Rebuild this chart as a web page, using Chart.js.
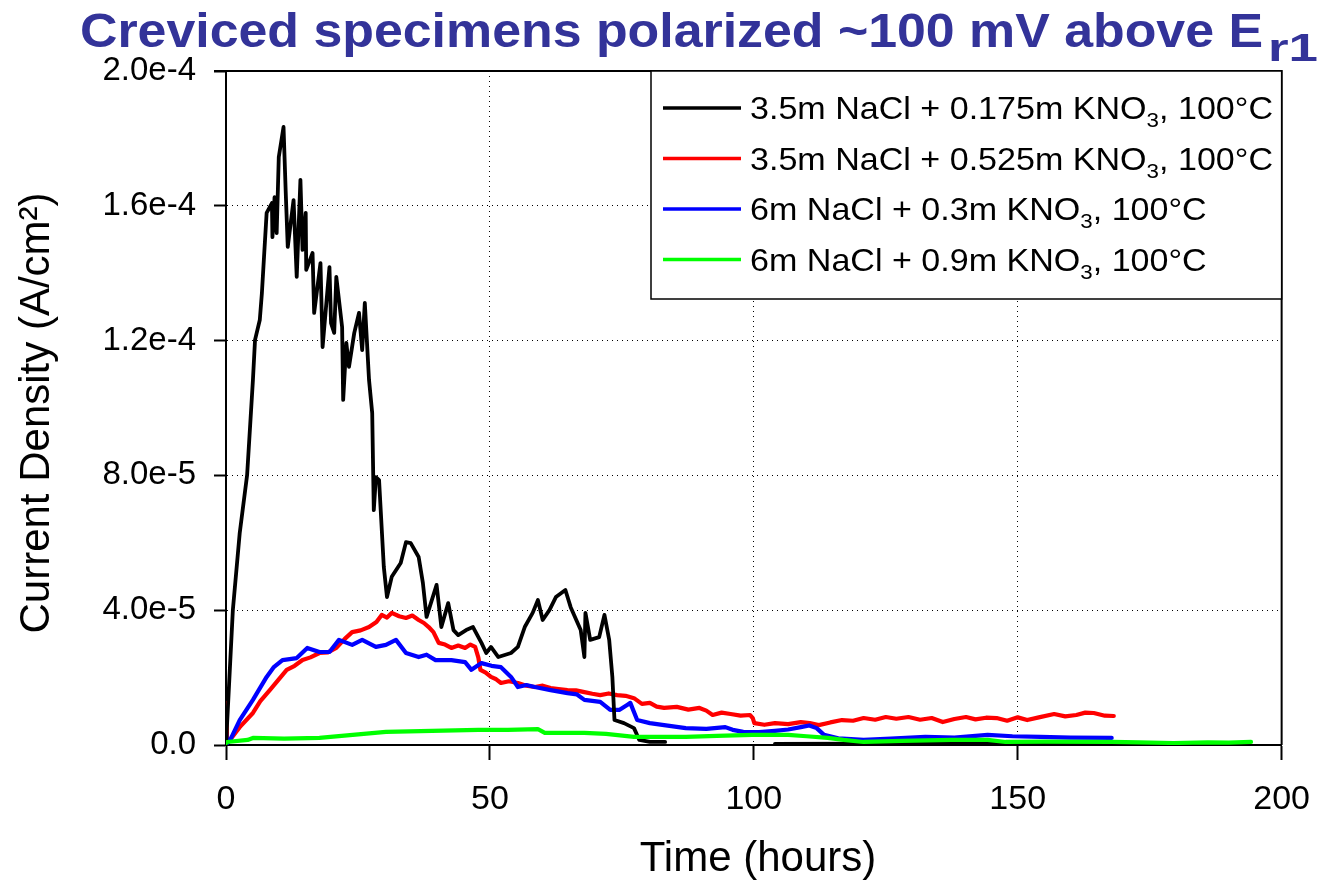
<!DOCTYPE html>
<html>
<head>
<meta charset="utf-8">
<title>Creviced specimens polarized ~100 mV above Er1</title>
<script src="https://cdn.jsdelivr.net/npm/chart.js@4.4.0/dist/chart.umd.min.js"></script>
<style>
  html, body { margin: 0; padding: 0; background: #fff; }
  #chart { display: block; }
</style>
</head>
<body>
<canvas id="chart" width="1329" height="881"></canvas>
<script>
// current density in uA/cm2 vs time in hours, [hours, current]
const blackSeries = [[0,0],[1.3,40.1],[2.6,62.9],[4.0,80.1],[5.1,108.3],[5.5,120.2],[6.4,126.1],[6.8,134.1],[7.2,144.8],[7.7,157.9],[8.7,160.8],[8.8,150.7],[9.2,162.6],[9.6,151.9],[10.0,174.5],[10.9,183.4],[11.3,164.7],[11.7,147.8],[12.8,161.7],[13.4,138.9],[14.1,167.7],[14.5,146.9],[15.1,157.9],[15.2,141.0],[16.4,146.0],[16.7,128.2],[17.9,143.0],[18.3,118.1],[19.6,141.8],[19.9,125.2],[20.5,122.3],[20.9,138.9],[22.0,124.0],[22.2,102.4],[22.8,119.3],[23.3,112.2],[24.3,122.3],[25.2,128.2],[25.8,117.2],[26.3,131.2],[27.1,108.3],[27.7,98.5],[28.0,69.7],[28.4,79.5],[29.0,78.6],[29.9,52.8],[30.5,43.9],[31.4,49.9],[33.1,54.0],[34.1,60.2],[35.0,59.9],[36.5,55.8],[37.3,48.1],[38.0,38.0],[39.9,47.5],[40.8,35.0],[42.1,42.1],[43.1,34.1],[44.0,32.6],[45.5,34.1],[46.8,35.0],[48.4,30.3],[49.3,27.3],[50.2,29.1],[51.6,26.1],[54.0,27.3],[55.3,29.1],[56.6,35.0],[58.1,39.2],[59.1,43.0],[60.0,37.1],[61.3,40.1],[62.5,43.9],[64.3,46.0],[65.3,40.9],[67.2,34.1],[67.9,26.1],[68.1,39.2],[69.0,31.2],[70.7,32.0],[71.7,38.6],[72.6,31.2],[73.2,20.2],[73.6,7.4],[75.4,6.5],[77.3,5.0],[78.3,1.5],[80.3,0.9],[83.2,0.9],[85,null],[104,0.3],[120,0.4],[140,0.3],[168,0.3]];
const redSeries = [[0,12.5],[0.2,2],[0.75,1.5],[2.6,5.3],[5.1,9.5],[6.5,13],[8.3,16.3],[10,19.5],[11.5,22.3],[13,23.5],[14.5,25.2],[16,26],[17.7,27.3],[19.3,27.5],[20.9,28.8],[22.5,31.5],[23.9,33.5],[25.5,34],[27.1,35.0],[28.5,36.5],[29.5,38.6],[30.5,37.8],[31.4,39.2],[32.8,38.2],[34.1,37.7],[35.3,38.4],[36.5,37.1],[37.5,36.2],[38.4,35.0],[39.3,33.5],[40.3,30.3],[41.5,29.8],[42.7,28.8],[44,29.5],[45.3,28.8],[46.3,29.8],[47.2,29.1],[47.8,26],[48.2,22.3],[49.2,21.5],[50.2,20.2],[51.2,19.5],[52.1,18.4],[53.6,18.9],[55.3,18.4],[56.9,17.6],[58.5,17.2],[60,17.6],[61.5,16.9],[63,16.6],[64.7,16.3],[66.3,16.2],[67.9,15.7],[69.4,15.2],[70.9,14.8],[72.5,15.3],[74.1,14.8],[75.7,14.6],[77.3,13.9],[78.8,12.2],[80.3,12.5],[81.6,11.4],[83.0,11.0],[85.4,11.3],[87.6,10.5],[89.7,11.0],[91,10.2],[92.2,8.9],[93.9,9.6],[95.6,9.2],[97.5,8.7],[99.3,8.9],[99.8,8.0],[100.1,6.5],[102,6.0],[104,6.5],[106.5,6.2],[108.9,6.8],[110.6,6.5],[112.3,5.9],[114.5,6.7],[116.7,7.4],[118.8,7.2],[120.8,8.0],[123,7.5],[125,8.3],[127,7.8],[129.3,8.3],[131.5,7.5],[133.7,8.0],[135.8,6.8],[138,7.7],[140.2,8.3],[142,7.6],[144,8.1],[146,8.0],[148,7.2],[150,8.2],[151.8,7.4],[154,8.2],[156.9,9.2],[159,8.5],[161.1,8.9],[162.8,9.6],[164.4,9.5],[166.5,8.7],[168.2,8.6]];
const blueSeries = [[0,3.9],[0.2,0.5],[0.8,1.5],[2.6,7.4],[5.1,13.4],[7.7,20.2],[9,23],[10.7,25.2],[13.4,25.8],[15.4,28.8],[17.7,27.6],[19.6,27.6],[21.4,31.2],[23.9,29.7],[25.8,31.2],[28.4,29.1],[30.3,29.7],[32.2,31.2],[34.1,27.3],[36.5,26.1],[38,26.8],[39.7,25.2],[42.7,25.2],[45.3,24.6],[46.5,22.3],[48.4,24.3],[50.3,23.5],[52.1,23.1],[54.0,20.2],[55.3,17.2],[56.9,17.8],[58.5,17.2],[61.5,16.3],[64.7,15.4],[66.5,15],[67.9,13.4],[70.9,12.8],[72.8,10.4],[74.5,10.4],[76.0,11.9],[76.6,12.5],[77.9,7.4],[80.3,6.5],[83.0,5.9],[87.1,5.0],[91,4.8],[94.6,5.3],[96,4.5],[98.0,3.9],[101,3.8],[104.0,4.2],[106.5,4.6],[108.9,5.3],[110.5,5.8],[111.9,5.0],[113.3,3.0],[116,2.0],[120.8,1.5],[126,1.9],[132.5,2.4],[138,2.2],[144.3,3.0],[149,2.6],[154.3,2.4],[160,2.2],[167.8,2.1]];
const greenSeries = [[0,0.5],[0.2,0.9],[4.1,1.5],[5.1,2.1],[11,1.9],[17.7,2.1],[24,3],[30.3,3.9],[39,4.2],[47.8,4.5],[53.4,4.5],[59.1,4.7],[60.4,3.6],[67.9,3.6],[72,3.3],[77.3,2.4],[83.0,2.4],[87.1,2.4],[93,2.7],[99.7,3.0],[106.5,3.0],[110,2.6],[114.0,2.1],[117,1.5],[120.8,0.9],[128,1.2],[137.5,1.5],[144.3,1.5],[147.7,0.9],[155,1.0],[167.8,0.9],[173,0.8],[179.5,0.6],[186,0.8],[190,0.7],[194.2,0.9]];

// legend text: [before subscript, subscript, after]
const seriesLabels = [
  ['3.5m NaCl + 0.175m KNO', '3', ', 100°C'],
  ['3.5m NaCl + 0.525m KNO', '3', ', 100°C'],
  ['6m NaCl + 0.3m KNO', '3', ', 100°C'],
  ['6m NaCl + 0.9m KNO', '3', ', 100°C']
];
const seriesColors = ['#000000', '#ff0000', '#0000ff', '#00ff00'];
const xTicks = [0, 50, 100, 150, 200];
const yTickLabels = ['0.0', '4.0e-5', '8.0e-5', '1.2e-4', '1.6e-4', '2.0e-4'];

const FONT = "'Liberation Sans', Arial, Helvetica, sans-serif";
const toPoints = s => s.map(([t, v]) => ({ x: t, y: v == null ? null : v * 1e-6 }));

// draw text runs (with subscripts) stretched horizontally by sx
function drawRuns(ctx, runs, x, y, sx) {
  ctx.save();
  ctx.translate(x, y);
  ctx.scale(sx, 1);
  let cx = 0;
  for (const r of runs) {
    ctx.font = r.font;
    ctx.fillText(r.text, cx, r.dy || 0);
    cx += ctx.measureText(r.text).width;
  }
  ctx.restore();
}
function runsWidth(ctx, runs) {
  let w = 0;
  for (const r of runs) { ctx.font = r.font; w += ctx.measureText(r.text).width; }
  return w;
}

const decorations = {
  id: 'decorations',
  afterDraw(chart) {
    const ctx = chart.ctx;
    const a = chart.chartArea;
    ctx.save();

    // top and right frame
    ctx.strokeStyle = '#000';
    ctx.lineWidth = 2;
    ctx.beginPath();
    ctx.moveTo(a.left - 12, a.top);
    ctx.lineTo(a.right, a.top);
    ctx.lineTo(a.right, a.bottom);
    ctx.stroke();

    // legend box
    const lx = 651, ly = a.top, lw = a.right - 651, lh = 228;
    ctx.fillStyle = '#fff';
    ctx.fillRect(lx, ly, lw, lh);
    ctx.lineWidth = 1.5;
    ctx.strokeRect(lx, ly, lw, lh);

    const legFont = `32px ${FONT}`;
    const subFont = `21px ${FONT}`;
    const rowRuns = seriesLabels.map(l => [
      { text: l[0], font: legFont },
      { text: l[1], font: subFont, dy: 8 },
      { text: l[2], font: legFont }
    ]);
    const legScale = 523 / runsWidth(ctx, rowRuns[0]);
    ctx.textBaseline = 'alphabetic';
    rowRuns.forEach((runs, i) => {
      const yRow = 108 + i * 50.5;
      ctx.strokeStyle = seriesColors[i];
      ctx.lineWidth = 3.5;
      ctx.beginPath();
      ctx.moveTo(663, yRow);
      ctx.lineTo(741, yRow);
      ctx.stroke();
      ctx.fillStyle = '#000';
      drawRuns(ctx, runs, 750, yRow + 11, legScale);
    });

    // chart title
    ctx.fillStyle = '#333399';
    const titleRuns = [{ text: 'Creviced specimens polarized ~100 mV above E', font: `bold 49px ${FONT}` }];
    drawRuns(ctx, titleRuns, 80, 47, 1183 / runsWidth(ctx, titleRuns));
    const subRuns = [{ text: 'r1', font: `bold 38px ${FONT}` }];
    drawRuns(ctx, subRuns, 1268, 61, 50 / runsWidth(ctx, subRuns));

    // axis titles
    ctx.fillStyle = '#000';
    ctx.font = `42px ${FONT}`;
    ctx.textAlign = 'center';
    ctx.fillText('Time (hours)', 758, 871);
    ctx.save();
    ctx.translate(37, 413);
    ctx.rotate(-Math.PI / 2);
    ctx.textBaseline = 'middle';
    ctx.fillText('Current Density (A/cm²)', 0, 0);
    ctx.restore();

    ctx.restore();
  }
};

const dottedGrid = (c) => (c.tick && (c.index === 0 || c.tick.value === c.scale.max)) ? 'rgba(0,0,0,0)' : '#000';

const canvas = document.getElementById('chart');
new Chart(canvas, {
  type: 'line',
  data: {
    datasets: [
      { label: '3.5m NaCl + 0.175m KNO3, 100°C', data: toPoints(blackSeries), borderColor: seriesColors[0], borderWidth: 3.8, order: 1 },
      { label: '3.5m NaCl + 0.525m KNO3, 100°C', data: toPoints(redSeries), borderColor: seriesColors[1], borderWidth: 4.2, order: 3 },
      { label: '6m NaCl + 0.3m KNO3, 100°C', data: toPoints(blueSeries), borderColor: seriesColors[2], borderWidth: 4.2, order: 2 },
      { label: '6m NaCl + 0.9m KNO3, 100°C', data: toPoints(greenSeries), borderColor: seriesColors[3], borderWidth: 4.2, order: 0 }
    ]
  },
  options: {
    responsive: false,
    animation: false,
    devicePixelRatio: 1,
    spanGaps: false,
    layout: { padding: { left: 0, right: 40, top: 71, bottom: 0 } },
    elements: {
      point: { radius: 0 },
      line: { tension: 0, borderJoinStyle: 'round', borderCapStyle: 'round', fill: false }
    },
    plugins: { legend: { display: false }, tooltip: { enabled: false }, title: { display: false } },
    scales: {
      x: {
        type: 'linear',
        min: 0,
        max: 200,
        afterBuildTicks: scale => { scale.ticks = xTicks.map(v => ({ value: v })); },
        afterFit: scale => { scale.height = 136; },
        grid: { color: dottedGrid, lineWidth: 1, tickLength: 15, tickColor: '#000', tickWidth: 2 },
        border: { display: true, color: '#000', width: 2, dash: [1, 4] },
        ticks: { color: '#000', font: { family: FONT, size: 34 }, padding: 19, maxRotation: 0 }
      },
      y: {
        type: 'linear',
        min: 0,
        max: 2e-4,
        afterBuildTicks: scale => { scale.ticks = yTickLabels.map((_, i) => ({ value: i * 4e-5 })); },
        afterFit: scale => { scale.width = 226; },
        grid: { color: dottedGrid, lineWidth: 1, tickLength: 12, tickColor: '#000', tickWidth: 2 },
        border: { display: true, color: '#000', width: 2, dash: [1, 4] },
        ticks: {
          color: '#000',
          font: { family: FONT, size: 33 },
          padding: 18,
          callback: (value, index) => yTickLabels[index]
        }
      }
    }
  },
  plugins: [decorations]
});
</script>
</body>
</html>
